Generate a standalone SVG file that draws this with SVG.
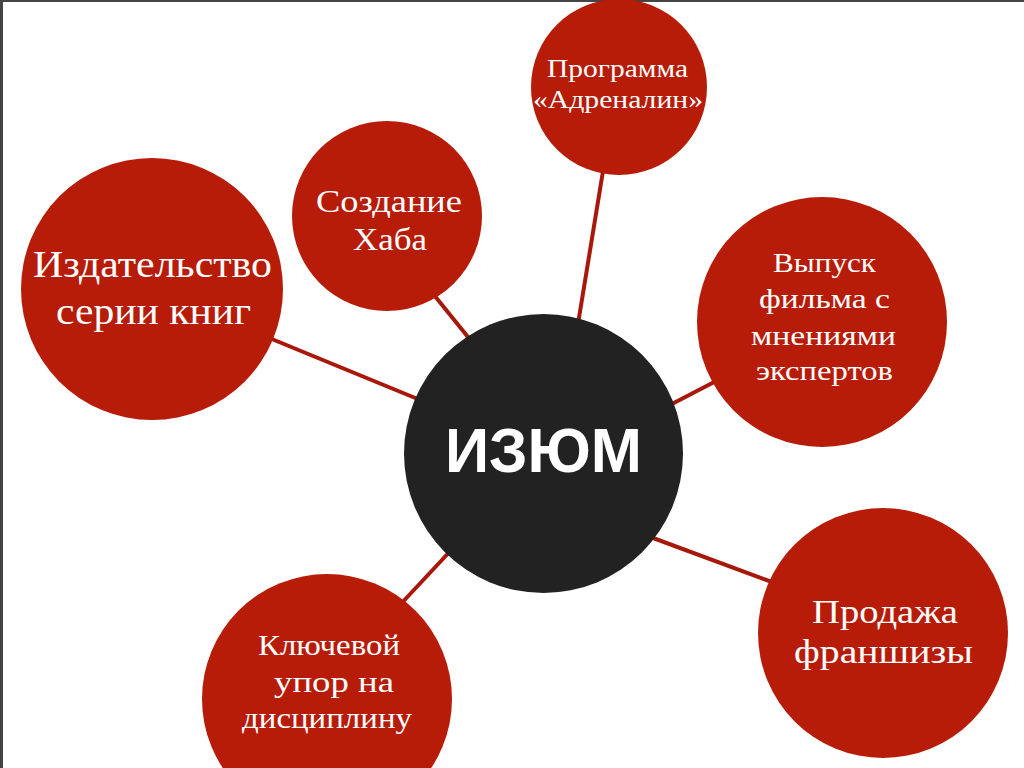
<svg xmlns="http://www.w3.org/2000/svg" width="1024" height="768" viewBox="0 0 1024 768">
<style>
.node{fill:#b71c08}
.hub{fill:#222222}
.lbl{font-family:"Liberation Serif","Times New Roman",serif;fill:#ffffff;text-anchor:middle}
.hubl{font-family:"Liberation Sans",Arial,sans-serif;font-weight:bold;fill:#ffffff;text-anchor:middle}
.conn line{stroke:#a8180a;stroke-width:4;stroke-linecap:butt}
</style>
<rect x="0" y="0" width="1024" height="768" fill="#ffffff"/>
<rect x="0" y="0" width="1024" height="2" fill="#444444"/>
<rect x="0" y="0" width="3" height="768" fill="#444444"/>
<g id="connectors" class="conn">
<line x1="604" y1="165" x2="577" y2="330"/>
<line x1="430" y1="290" x2="472" y2="342"/>
<line x1="262" y1="335" x2="425" y2="402"/>
<line x1="720" y1="379" x2="668" y2="406"/>
<line x1="645" y1="535" x2="780" y2="585"/>
<line x1="455" y1="546" x2="398" y2="607"/>
</g>
<g id="node-adrenalin">
<circle class="node" cx="619" cy="87" r="88"/>
<text class="lbl" x="617.5" y="77" font-size="25" textLength="141" lengthAdjust="spacingAndGlyphs">Программа</text>
<text class="lbl" x="618" y="108" font-size="25" textLength="170" lengthAdjust="spacingAndGlyphs">«Адреналин»</text>
</g>
<g id="node-hub-creation">
<circle class="node" cx="387" cy="216" r="95"/>
<text class="lbl" x="389" y="212" font-size="32" textLength="146" lengthAdjust="spacingAndGlyphs">Создание</text>
<text class="lbl" x="390" y="250" font-size="32" textLength="74" lengthAdjust="spacingAndGlyphs">Хаба</text>
</g>
<g id="node-publishing">
<circle class="node" cx="152" cy="289" r="131"/>
<text class="lbl" x="152.5" y="277" font-size="38" textLength="239" lengthAdjust="spacingAndGlyphs">Издательство</text>
<text class="lbl" x="153.5" y="324" font-size="38" textLength="195" lengthAdjust="spacingAndGlyphs">серии книг</text>
</g>
<g id="node-film">
<circle class="node" cx="822" cy="322" r="125"/>
<text class="lbl" x="824.5" y="272" font-size="28" textLength="103" lengthAdjust="spacingAndGlyphs">Выпуск</text>
<text class="lbl" x="824.5" y="308" font-size="28" textLength="131" lengthAdjust="spacingAndGlyphs">фильма с</text>
<text class="lbl" x="823.5" y="345" font-size="28" textLength="145" lengthAdjust="spacingAndGlyphs">мнениями</text>
<text class="lbl" x="824.5" y="380" font-size="28" textLength="137" lengthAdjust="spacingAndGlyphs">экспертов</text>
</g>
<g id="node-franchise">
<circle class="node" cx="883" cy="633" r="125"/>
<text class="lbl" x="885" y="623" font-size="34" textLength="146" lengthAdjust="spacingAndGlyphs">Продажа</text>
<text class="lbl" x="883.5" y="663" font-size="34" textLength="179" lengthAdjust="spacingAndGlyphs">франшизы</text>
</g>
<g id="node-discipline">
<circle class="node" cx="327" cy="699" r="125"/>
<text class="lbl" x="329" y="655" font-size="29" textLength="142" lengthAdjust="spacingAndGlyphs">Ключевой</text>
<text class="lbl" x="334" y="692" font-size="29" textLength="120" lengthAdjust="spacingAndGlyphs">упор на</text>
<text class="lbl" x="327" y="728" font-size="29" textLength="170" lengthAdjust="spacingAndGlyphs">дисциплину</text>
</g>
<g id="node-izum">
<circle class="hub" cx="543.5" cy="453.5" r="139.5"/>
<text class="hubl" x="543.5" y="472" font-size="63" textLength="197" lengthAdjust="spacingAndGlyphs">ИЗЮМ</text>
</g>
</svg>
